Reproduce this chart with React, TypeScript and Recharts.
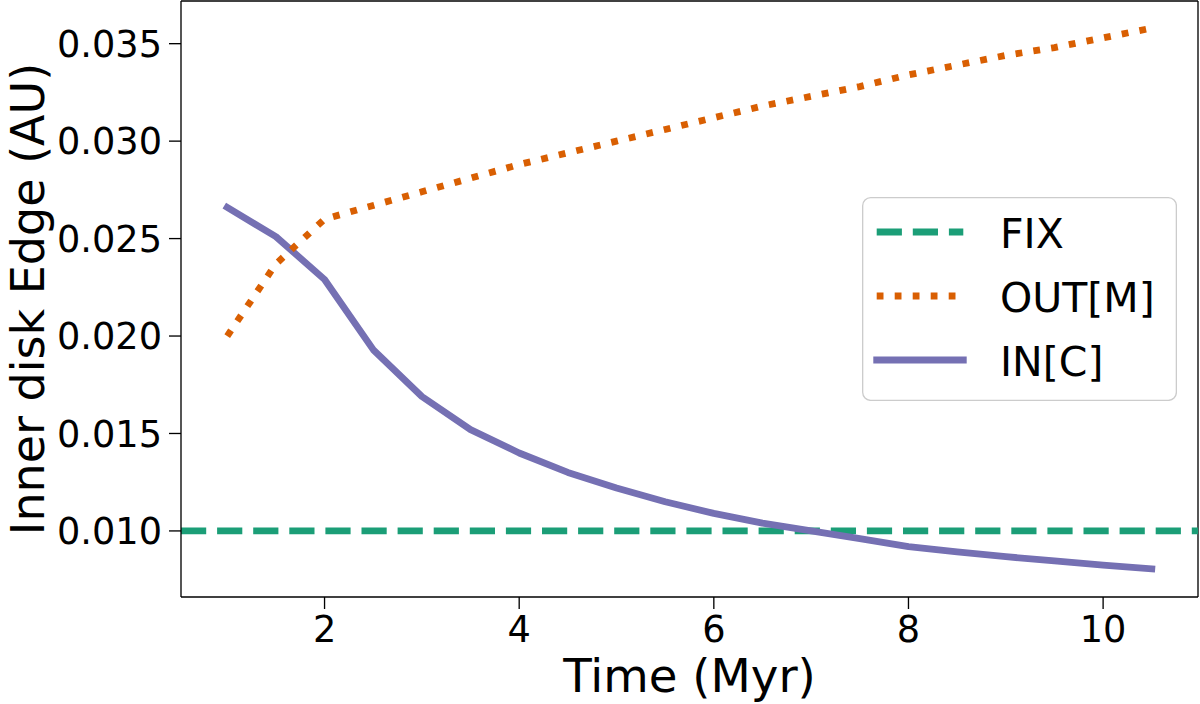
import React from "react";
import { LineChart, Line, XAxis, YAxis, ReferenceLine, Legend, Label } from "recharts";

// time grid (Myr) and inner disk edge (AU) for each model
const TIME = [1, 1.5, 2, 2.5, 3, 3.5, 4, 4.5, 5, 5.5, 6, 6.5, 7, 7.5, 8, 8.5, 9, 9.5, 10, 10.5];
const OUT_M = [
  0.02, 0.0237, 0.026, 0.0267, 0.0274, 0.0281, 0.0288, 0.0294, 0.03, 0.0306,
  0.0312, 0.0318, 0.0323, 0.0328, 0.0334, 0.0339, 0.0344, 0.0348, 0.0353, 0.0358,
];
const IN_C = [
  0.0266, 0.0251, 0.0229, 0.0193, 0.0169, 0.0152, 0.014, 0.013, 0.0122, 0.0115,
  0.0109, 0.0104, 0.01, 0.0096, 0.0092, 0.00893, 0.00868, 0.00846, 0.00825, 0.00805,
];
const FIX_EDGE = 0.01;

const X_TICKS = [2, 4, 6, 8, 10];
const Y_TICKS = [0.01, 0.015, 0.02, 0.025, 0.03, 0.035];

const X_MIN = 0.525;
const X_MAX = 10.975;
const Y_MIN = 0.00661;
const Y_MAX = 0.03719;

const FONT = "'DejaVu Sans', sans-serif";
const LW = 6.8;
const SPINE = { stroke: "#000", strokeWidth: 1.33 };

const SERIES = [
  { name: "FIX", color: "#1b9e77", dash: "25.2 10.9" },
  { name: "OUT[M]", color: "#d95f02", dash: "6.8 11.2" },
  { name: "IN[C]", color: "#7570b3", dash: undefined as string | undefined },
];

const LegendBox = () => (
  <svg width={315} height={204} style={{ display: "block" }}>
    <rect x={0.67} y={0.67} width={313.7} height={202.7} rx={8} fill="#fff" fillOpacity={0.8} stroke="#cccccc" strokeWidth={1.33} />
    {SERIES.map((s, i) => {
      const y = 35 + i * 64;
      return (
        <g key={s.name}>
          <line
            x1={14.7}
            x2={101.3}
            y1={y}
            y2={y}
            stroke={s.color}
            strokeWidth={LW}
            strokeDasharray={s.dash}
            strokeLinecap={s.dash ? "butt" : "square"}
          />
          <text x={138} y={y + 15.5} fontSize={41} fontFamily={FONT} fill="#000">
            {s.name}
          </text>
        </g>
      );
    })}
  </svg>
);

const YTitle = (props: any) => {
  const vb = props.viewBox;
  const cy = vb && vb.height ? vb.y + vb.height / 2 : 299;
  return (
    <text
      x={44}
      y={cy}
      transform={`rotate(-90 44 ${cy})`}
      textAnchor="middle"
      fontSize={46}
      fontFamily={FONT}
      fill="#000"
    >
      Inner disk Edge (AU)
    </text>
  );
};

export default function App() {
  const data = TIME.map((t, i) => ({ t, out: OUT_M[i], inc: IN_C[i] }));
  return (
    <div style={{ position: "absolute", left: 0, top: 0, width: 1200, height: 704, background: "#fff" }}>
      <LineChart width={1200} height={704} data={data} margin={{ top: 1, right: 2, left: 0, bottom: 0 }}>
        <XAxis
          type="number"
          dataKey="t"
          domain={[X_MIN, X_MAX]}
          ticks={X_TICKS}
          interval={0}
          allowDataOverflow
          height={107}
          tickSize={12}
          tickMargin={7}
          axisLine={SPINE}
          tickLine={SPINE}
          tick={{ fill: "#000", fontSize: 36.7, fontFamily: FONT }}
        >
          <Label value="Time (Myr)" position="insideBottom" offset={12} fontSize={46.7} fontFamily={FONT} fill="#000" />
        </XAxis>
        <YAxis
          type="number"
          domain={[Y_MIN, Y_MAX]}
          ticks={Y_TICKS}
          interval={0}
          allowDataOverflow
          width={181}
          tickSize={12}
          tickMargin={7}
          tickFormatter={(v: number) => v.toFixed(3)}
          axisLine={SPINE}
          tickLine={SPINE}
          tick={{ fill: "#000", fontSize: 36.7, fontFamily: FONT }}
        >
          <Label content={YTitle} />
        </YAxis>
        <ReferenceLine y={Y_MAX} {...SPINE} ifOverflow="visible" />
        <ReferenceLine x={X_MAX} {...SPINE} ifOverflow="visible" />
        <ReferenceLine y={FIX_EDGE} stroke={SERIES[0].color} strokeWidth={LW} strokeDasharray={SERIES[0].dash} />
        <Line
          type="linear"
          dataKey="inc"
          name="IN[C]"
          stroke={SERIES[2].color}
          strokeWidth={LW}
          strokeLinecap="square"
          strokeLinejoin="round"
          dot={false}
          isAnimationActive={false}
        />
        <Line
          type="linear"
          dataKey="out"
          name="OUT[M]"
          stroke={SERIES[1].color}
          strokeWidth={LW}
          strokeDasharray={SERIES[1].dash}
          dot={false}
          isAnimationActive={false}
        />
        <Legend
          content={LegendBox}
          layout="vertical"
          align="center"
          verticalAlign="middle"
          wrapperStyle={{ left: 862, top: 197, width: 315, height: 204 }}
        />
      </LineChart>
    </div>
  );
}
